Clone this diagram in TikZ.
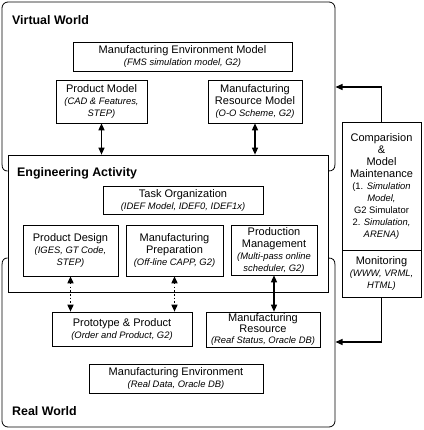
\documentclass[tikz,border=0pt]{standalone}
\usepackage{fontspec}
\setmainfont{Liberation Sans}
\usetikzlibrary{arrows.meta}
\newcommand\subt[1]{{\fontsize{9.4}{12}\selectfont\itshape #1}}
\newcommand\subtt[1]{{\fontsize{9.4}{11}\selectfont\itshape #1}}
\begin{document}
\begin{tikzpicture}[x=1pt,y=-1pt,
  box/.style={draw, line width=0.6pt, inner sep=0pt, align=center, font=\fontsize{11}{12}\selectfont},
  ttl/.style={font=\fontsize{12.4}{14}\selectfont\bfseries, anchor=west, inner sep=0pt},
  outer/.style={line width=0.8pt},
  biarrow/.style={line width=1.3pt, {Triangle[length=7pt,width=6pt]}-{Triangle[length=7pt,width=6pt]}},
  dotarrow/.style={line width=1.5pt, dash pattern=on 1.5pt off 2.2pt, {Triangle[length=7pt,width=6pt]}-{Triangle[length=7pt,width=6pt]}},
  fbarrow/.style={line width=1.3pt, -{Triangle[length=7pt,width=6pt]}}
]
\useasboundingbox (0,0) rectangle (423,430);

% Engineering activity box
\node[draw, line width=0.7pt, minimum width=320pt, minimum height=137pt, inner sep=0pt] (ea) at (168,223.5) {};

% Virtual world outline
\draw[outer, rounded corners=6pt] (2,164) -- (2,2) -- (335,2) -- (335,164);
\draw[outer] (2,164) .. controls (2,169) and (4,171) .. (ea.west |- 0,171);
\draw[outer] (335,164) .. controls (335,169) and (333,171) .. (ea.east |- 0,171);
% Real world outline
\draw[outer, rounded corners=6pt] (2,265) -- (2,427) -- (335,427) -- (335,265);
\draw[outer] (2,265) .. controls (2,260) and (4,258) .. (ea.west |- 0,258);
\draw[outer] (335,265) .. controls (335,260) and (333,258) .. (ea.east |- 0,258);

% titles
\node[ttl] (vw) at (12,20) {Virtual World};
\node[ttl] (eat) at (17,173) {Engineering Activity};
\node[ttl] (rw) at (12,411) {Real World};

% virtual world boxes
\node[box, minimum width=219pt, minimum height=29pt] (mem) at (182.5,56.5) {Manufacturing Environment Model\\\subt{(FMS simulation model, G2)}};
\node[box, minimum width=91pt, minimum height=43pt] (pm) at (101.5,101.5) {Product Model\\\subt{(CAD \& Features,}\\\subt{STEP)}};
\node[box, minimum width=94pt, minimum height=43pt] (mrm) at (255,101.5) {Manufacturing\\Resource Model\\\subt{(O-O Scheme, G2)}};

% engineering activity boxes
\node[box, minimum width=160pt, minimum height=28pt] (to) at (183,200) {Task Organization\\\subt{(IDEF Model, IDEF0, IDEF1x)}};
\node[box, minimum width=95pt, minimum height=51pt] (pd) at (70.5,250.5) {Product Design\\\subt{(IGES, GT Code,}\\\subt{STEP)}};
\node[box, minimum width=97pt, minimum height=51pt] (mp) at (174.5,250.5) {Manufacturing\\Preparation\\\subt{(Off-line CAPP, G2)}};
\node[box, minimum width=86pt, minimum height=50pt] (prm) at (274,250) {Production\\Management\\\subt{(Multi-pass online}\\\subt{scheduler, G2)}};

% real world boxes
\node[box, minimum width=140pt, minimum height=34pt] (pp) at (122,329) {Prototype \& Product\\\subt{(Order and Product, G2)}};
\node[box, minimum width=114pt, minimum height=35pt, font=\fontsize{11}{11}\selectfont] (mr) at (263,329.5) {Manufacturing\\Resource\\\subtt{(Reaf Status, Oracle DB)}};
\node[box, minimum width=174pt, minimum height=29pt] (me) at (176,378.5) {Manufacturing Environment\\\subt{(Real Data, Oracle DB)}};

% right side boxes
\node[box, minimum width=79pt, minimum height=128pt] (comp) at (381.5,186) {Comparision\\\&\\Model\\Maintenance\\\subt{\upshape(1. \itshape Simulation}\\\subt{Model,}\\\subt{\upshape G2 Simulator}\\\subt{\upshape 2. \itshape Simulation,}\\\subt{ARENA)}};
\node[box, minimum width=79pt, minimum height=47pt] (mon) at (381.5,273.5) {Monitoring\\\subt{(WWW, VRML,}\\\subt{HTML)}};

% connectors
\draw[biarrow] (pm.south) -- (pm.south |- ea.north);
\draw[biarrow] (mrm.south) -- (mrm.south |- ea.north);
\draw[dotarrow] (pd.south) -- (pd.south |- pp.north);
\draw[dotarrow] (mp.south) -- (mp.south |- pp.north);
\draw[biarrow] (prm.south) -- (prm.south |- mr.north);

\coordinate (vwR) at (335.5,87);
\coordinate (rwR) at (335.5,342);
\draw[fbarrow] (comp.north) |- (vwR);
\draw[fbarrow] (mon.south) |- (rwR);
\end{tikzpicture}
\end{document}
